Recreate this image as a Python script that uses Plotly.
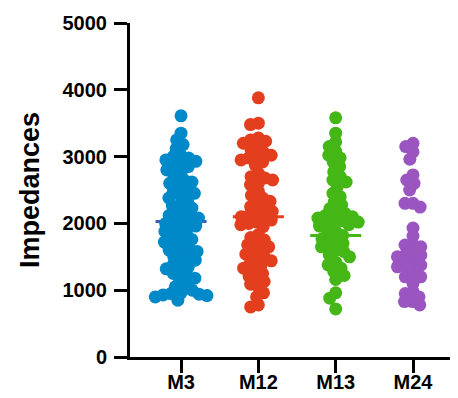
import math
import plotly.graph_objects as go

# Group names, colours and values
groups = ["M3", "M12", "M13", "M24"]
colors = ["#0089C9", "#E33F1F", "#44B716", "#9A55C0"]
mean_colors = ["#3F5DB3", "#E33F1F", "#44B716", "#9A55C0"]

m3 = [3610, 3350, 3250, 3180, 3120, 3020, 3000, 2980, 2950, 2930, 2900, 2870,
      2850, 2800, 2760, 2700, 2650, 2620, 2600, 2550, 2500, 2480, 2450, 2400,
      2380, 2330, 2280, 2260, 2230, 2180, 2150, 2120, 2100, 2080, 2050, 2020,
      2000, 1980, 1960, 1930, 1900, 1880, 1850, 1800, 1780, 1760, 1720, 1700,
      1650, 1620, 1600, 1580, 1550, 1500, 1480, 1450, 1400, 1380, 1350, 1320,
      1280, 1250, 1200, 1180, 1150, 1080, 1050, 1000, 960, 950, 940, 930, 920,
      900, 850]
m12 = [3880, 3500, 3480, 3280, 3250, 3230, 3200, 3150, 3100, 3060, 3020, 3000,
       2980, 2950, 2920, 2870, 2750, 2700, 2680, 2650, 2600, 2580, 2480, 2420,
       2380, 2330, 2280, 2250, 2200, 2180, 2150, 2120, 2100, 2080, 2050, 2020,
       2000, 1980, 1950, 1830, 1790, 1750, 1710, 1680, 1650, 1610, 1580, 1540,
       1500, 1470, 1440, 1400, 1370, 1330, 1290, 1250, 1210, 1170, 1130, 1090,
       1050, 960, 900, 780, 750]
m13 = [3580, 3350, 3220, 3150, 3080, 3020, 2980, 2920, 2850, 2770, 2700, 2650,
       2620, 2550, 2450, 2400, 2320, 2275, 2220, 2170, 2150, 2120, 2100, 2080,
       2060, 2040, 2020, 2000, 1980, 1960, 1880, 1850, 1820, 1770, 1750, 1700,
       1680, 1650, 1600, 1580, 1530, 1500, 1420, 1380, 1330, 1280, 1220, 1160,
       960, 880, 720]
m24 = [3200, 3150, 3070, 2960, 2725, 2650, 2600, 2500, 2300, 2300, 2245, 1930,
       1810, 1675, 1675, 1650, 1555, 1525, 1525, 1500, 1405, 1375, 1375, 1350,
       1230, 1200, 1200, 1100, 980, 950, 900, 830, 830, 780]
values = [m3, m12, m13, m24]
# group means as drawn (the M24 mean line is hidden behind its dots)
means = [2030, 2100, 1820, None]

# pixel scales used only to spread the dots sideways (beeswarm)
PX_PER_VAL = 334 / 5000
PX_PER_CAT = 77.3
MIN_DIST = 8.0


def swarm_offsets(vals):
    placed = []
    offsets = []
    for v in vals:
        y = v * PX_PER_VAL
        cands = [0.0]
        for xj, yj in placed:
            dy = abs(y - yj)
            if dy < MIN_DIST:
                dx = math.sqrt(MIN_DIST ** 2 - dy ** 2)
                cands += [xj - dx, xj + dx]
        cands.sort(key=abs)
        best = 0.0
        for c in cands:
            if all((c - xj) ** 2 + (y - yj) ** 2 >= MIN_DIST ** 2 - 1e-6
                   for xj, yj in placed):
                best = c
                break
        placed.append((best, y))
        offsets.append(best / PX_PER_CAT)
    return offsets


fig = go.Figure()

# mean lines under the dots
for i, m in enumerate(means):
    if m is None:
        continue
    fig.add_trace(go.Scatter(
        x=[i - 0.33, i + 0.33], y=[m, m], mode="lines",
        line=dict(color=mean_colors[i], width=3), showlegend=False,
        hoverinfo="skip"))

for i, vals in enumerate(values):
    offs = swarm_offsets(vals)
    fig.add_trace(go.Scatter(
        x=[i + o for o in offs], y=vals, mode="markers",
        marker=dict(color=colors[i], size=13, line=dict(width=0)),
        name=groups[i], showlegend=False))

axis_font = dict(family="Liberation Sans, Arial, sans-serif", size=20,
                 color="black", weight="bold")

# the page body adds an 8px margin, so the figure is 8px smaller each way
fig.update_layout(
    width=450, height=390,
    margin=dict(l=122, r=2, t=15, b=41),
    plot_bgcolor="white", paper_bgcolor="white",
    showlegend=False,
    xaxis=dict(
        range=[-0.66, 3.556], tickvals=[0, 1, 2, 3], ticktext=groups,
        showline=True, linecolor="black", linewidth=3,
        ticks="outside", ticklen=13, tickwidth=3, tickcolor="black",
        ticklabelstandoff=-8, automargin=False,
        showgrid=False, zeroline=False, tickfont=axis_font),
    yaxis=dict(
        range=[0, 5000], tickvals=[0, 1000, 2000, 3000, 4000, 5000],
        showline=True, linecolor="black", linewidth=3,
        ticks="outside", ticklen=13, tickwidth=3, tickcolor="black",
        ticklabelstandoff=3, automargin=False,
        showgrid=False, zeroline=False, tickfont=axis_font,
        title=dict(text="Impedances", standoff=16,
                   font=dict(family="Liberation Sans, Arial, sans-serif",
                             size=27, color="black", weight="bold"))),
)

fig.write_html("out.html")
